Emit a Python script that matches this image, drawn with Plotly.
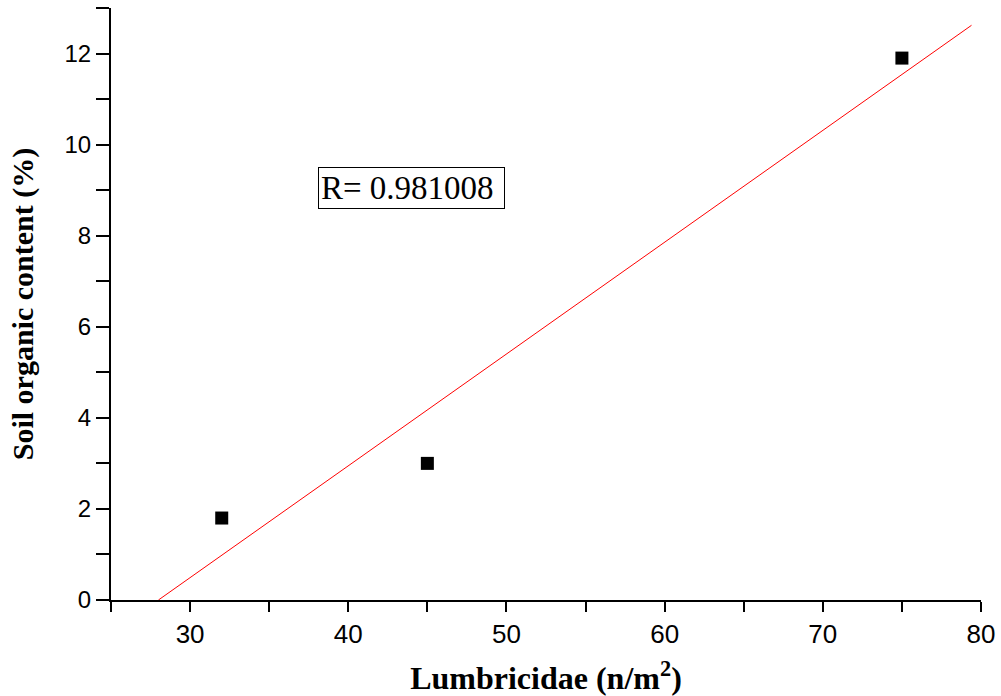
import plotly.graph_objects as go

# Data
lumbricidae = [32, 45, 75]
organic_content = [1.8, 3.0, 11.9]
fit_x = [28.0, 79.4]
fit_y = [0.0, 12.62]
r_label = "R= 0.981008"

fig = go.Figure()
fig.add_trace(go.Scatter(x=fit_x, y=fit_y, mode="lines",
                         line=dict(color="red", width=1), showlegend=False))
fig.add_trace(go.Scatter(x=lumbricidae, y=organic_content, mode="markers",
                         marker=dict(symbol="square", size=13, color="black"),
                         showlegend=False))

fig.add_annotation(x=43.99, y=9.05, xref="x", yref="y", text=r_label,
                   showarrow=False, bordercolor="black", borderwidth=1,
                   borderpad=2, bgcolor="white", width=181, height=36,
                   align="left",
                   font=dict(family="Liberation Serif, Times New Roman, serif",
                             size=33, color="black"))

fig.update_layout(
    width=1001, height=696,
    margin=dict(l=111, r=20, t=8, b=96),
    plot_bgcolor="white", paper_bgcolor="white",
    xaxis=dict(range=[25, 80], tick0=0, dtick=10, showgrid=False, zeroline=False,
               automargin=False,
               showline=True, linecolor="black", linewidth=2,
               ticks="outside", ticklen=10, tickwidth=2, tickcolor="black",
               minor=dict(dtick=5, tick0=0, ticks="outside", ticklen=10,
                          tickwidth=2, tickcolor="black", showgrid=False),
               tickfont=dict(family="Liberation Sans, Arial, sans-serif",
                             size=26, color="black"),
               title=dict(text="<b>Lumbricidae (n/m<sup>2</sup>)</b>",
                          font=dict(family="Liberation Serif, Times New Roman, serif",
                                    size=32, color="black"),
                          standoff=19)),
    yaxis=dict(range=[0, 13], tick0=0, dtick=2, showgrid=False, zeroline=False,
               automargin=False,
               showline=True, linecolor="black", linewidth=2,
               ticks="outside", ticklen=13, tickwidth=2, tickcolor="black",
               minor=dict(dtick=1, tick0=0, ticks="outside", ticklen=13,
                          tickwidth=2, tickcolor="black", showgrid=False),
               tickfont=dict(family="Liberation Sans, Arial, sans-serif",
                             size=24, color="black"),
               title=dict(text="<b>Soil organic content (%)</b>",
                          font=dict(family="Liberation Serif, Times New Roman, serif",
                                    size=30, color="black"),
                          standoff=22)),
)

fig.write_html("out.html", config={"displayModeBar": False},
               post_script="document.body.style.margin='0';")
